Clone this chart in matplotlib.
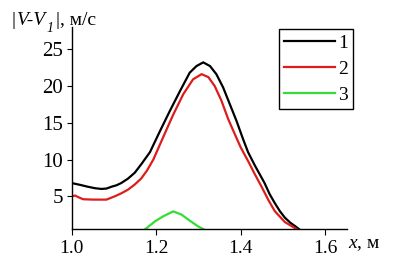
import matplotlib
matplotlib.use('Agg')
import matplotlib.pyplot as plt

plt.rcParams['font.family'] = ['Liberation Serif', 'DejaVu Serif']
plt.rcParams['mathtext.fontset'] = 'custom'
plt.rcParams['mathtext.rm'] = 'Liberation Serif'
plt.rcParams['mathtext.it'] = 'Liberation Serif:italic'

# curve 1 (black)
x1 = [1.0, 1.02, 1.038, 1.055, 1.070, 1.082, 1.094, 1.106, 1.117, 1.133, 1.149, 1.165,
      1.185, 1.209, 1.232, 1.256, 1.279, 1.295, 1.311, 1.327, 1.342, 1.358, 1.374,
      1.390, 1.405, 1.417, 1.433, 1.456, 1.468, 1.480, 1.492, 1.504, 1.517, 1.527, 1.543]
y1 = [6.8, 6.55, 6.3, 6.1, 6.0, 6.05, 6.3, 6.5, 6.8, 7.4, 8.2, 9.4,
      11.0, 13.9, 16.6, 19.3, 21.8, 22.7, 23.2, 22.7, 21.6, 19.8, 17.5,
      15.2, 12.8, 11.0, 9.2, 6.8, 5.3, 4.1, 3.0, 2.1, 1.4, 1.0, 0.3]

# curve 2 (red)
x2 = [1.0, 1.008, 1.015, 1.027, 1.05, 1.082, 1.102, 1.117, 1.133, 1.149, 1.164, 1.178,
      1.193, 1.216, 1.240, 1.264, 1.287, 1.307, 1.323, 1.338, 1.354, 1.370, 1.386,
      1.40, 1.417, 1.433, 1.449, 1.465, 1.480, 1.504, 1.527, 1.54]
y2 = [5.0, 5.1, 4.9, 4.6, 4.55, 4.55, 5.0, 5.4, 5.9, 6.6, 7.4, 8.5,
      10.0, 13.0, 16.1, 18.9, 20.9, 21.6, 21.2, 20.0, 18.0, 15.5, 13.4,
      11.6, 9.8, 8.0, 6.3, 4.5, 3.0, 1.5, 0.7, 0.3]

# curve 3 (green)
x3 = [1.168, 1.177, 1.197, 1.216, 1.240, 1.260, 1.279, 1.299, 1.311, 1.318]
y3 = [0.3, 0.68, 1.6, 2.27, 2.95, 2.5, 1.7, 0.9, 0.55, 0.3]

labels = ['1', '2', '3']
colors = ['#000000', '#dd1c1c', '#33dd33']

fig = plt.figure(figsize=(4.03, 2.68), dpi=100)
ax = fig.add_axes([0.178, 0.144, 0.682, 0.755])

ax.plot(x1, y1, color=colors[0], lw=1.6, label=labels[0])
ax.plot(x2, y2, color=colors[1], lw=1.6, label=labels[1])
ax.plot(x3, y3, color=colors[2], lw=1.6, label=labels[2])

ax.set_xlim(1.0, 1.65)
ax.set_ylim(0.5, 28)
ax.set_xticks([1.0, 1.2, 1.4, 1.6])
ax.set_xticklabels(['1.0', '1.2', '1.4', '1.6'])
ax.set_yticks([5, 10, 15, 20, 25])

for s in ['top', 'right']:
    ax.spines[s].set_visible(False)
for s in ['left', 'bottom']:
    ax.spines[s].set_linewidth(1.0)

ax.tick_params(axis='x', direction='out', length=4.5, width=0.8, labelsize=14, pad=3)
ax.tick_params(axis='y', direction='out', length=3.5, width=0.8, labelsize=15, pad=3)

ax.text(1.005, -0.035, r'$x$, м', transform=ax.transAxes, fontsize=14,
        ha='left', va='top')

# y label: |V-V1|, м/с  built from pieces
t1 = fig.text(0.028, 0.905, '|', fontsize=14, ha='left', va='baseline')
t2 = ax.annotate('V-V', xy=(1, 0), xycoords=t1, xytext=(1, 0), textcoords='offset points',
                 fontsize=14, fontstyle='italic', ha='left', va='bottom')
t3 = ax.annotate('1', xy=(1, 0), xycoords=t2, xytext=(0.5, -4), textcoords='offset points',
                 fontsize=10, fontstyle='italic', ha='left', va='bottom')
t4 = ax.annotate('|, м/с', xy=(1, 0), xycoords=t2, xytext=(7, 0), textcoords='offset points',
                 fontsize=14, ha='left', va='bottom')

leg = ax.legend(loc='upper left', bbox_to_anchor=(0.755, 0.99), fontsize=14,
                frameon=True, fancybox=False, edgecolor='black', framealpha=1,
                handlelength=2.6, handletextpad=0.2, labelspacing=0.45,
                borderpad=0.25, borderaxespad=0)
leg.get_frame().set_linewidth(1.0)

fig.savefig('out.png', dpi=100)
